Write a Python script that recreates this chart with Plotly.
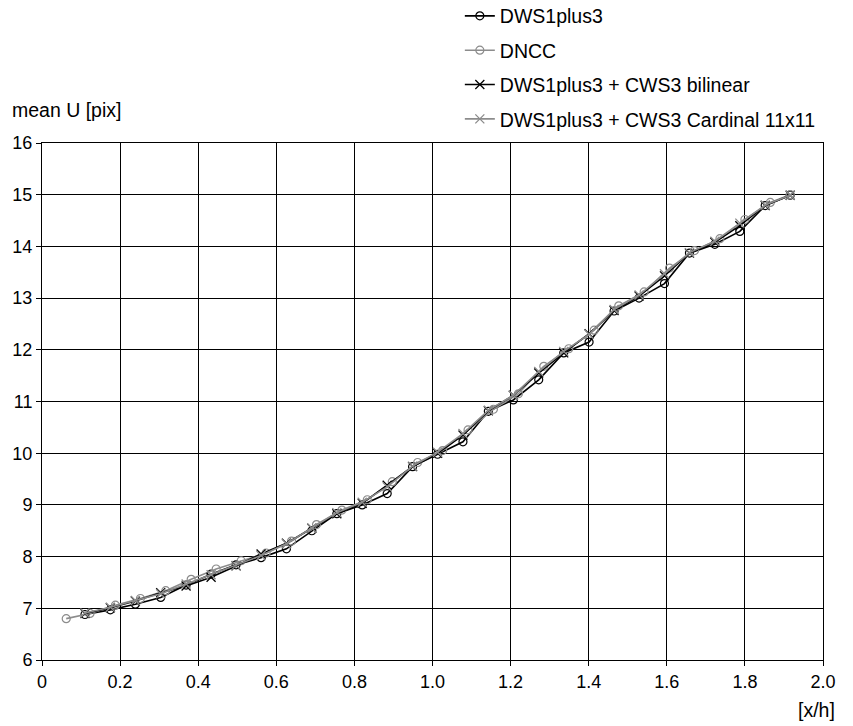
import plotly.graph_objects as go

x_dws = [0.110, 0.175, 0.239, 0.304, 0.369, 0.433, 0.497, 0.561, 0.626, 0.691,
         0.755, 0.820, 0.884, 0.949, 1.013, 1.078, 1.143, 1.207, 1.272, 1.336,
         1.401, 1.465, 1.529, 1.594, 1.658, 1.723, 1.787, 1.852, 1.916]
y_dws = [6.88, 6.97, 7.08, 7.21, 7.45, 7.66, 7.84, 7.98, 8.15, 8.50,
         8.83, 9.00, 9.22, 9.74, 9.98, 10.22, 10.81, 11.03, 11.42, 11.94,
         12.15, 12.75, 13.00, 13.28, 13.87, 14.04, 14.29, 14.79, 14.99]

x_dncc = [0.062, 0.123, 0.188, 0.252, 0.317, 0.382, 0.446, 0.510, 0.574, 0.639,
          0.703, 0.768, 0.833, 0.897, 0.962, 1.026, 1.091, 1.156, 1.220, 1.285,
          1.349, 1.414, 1.477, 1.542, 1.607, 1.671, 1.736, 1.800, 1.865, 1.916]
y_dncc = [6.80, 6.90, 7.06, 7.19, 7.34, 7.56, 7.76, 7.92, 8.07, 8.30,
          8.62, 8.90, 9.10, 9.45, 9.82, 10.05, 10.45, 10.85, 11.15, 11.68,
          12.02, 12.38, 12.85, 13.12, 13.58, 13.92, 14.15, 14.52, 14.85, 15.00]

y_bilinear = [6.90, 7.01, 7.14, 7.30, 7.43, 7.60, 7.82, 8.05, 8.26, 8.55,
              8.83, 9.03, 9.38, 9.74, 10.00, 10.35, 10.82, 11.12, 11.55, 11.94,
              12.31, 12.76, 13.04, 13.43, 13.87, 14.08, 14.40, 14.79, 14.99]

y_cardinal = [6.91, 7.02, 7.15, 7.28, 7.47, 7.65, 7.83, 8.02, 8.25, 8.55,
              8.85, 9.05, 9.35, 9.75, 10.02, 10.38, 10.83, 11.12, 11.58, 11.97,
              12.30, 12.78, 13.06, 13.47, 13.88, 14.10, 14.45, 14.80, 14.99]

x_tickvals = [0, 0.2, 0.4, 0.6, 0.8, 1.0, 1.2, 1.4, 1.6, 1.8, 2.0]
x_ticktext = ["0", "0.2", "0.4", "0.6", "0.8", "1.0", "1.2", "1.4", "1.6", "1.8", "2.0"]

BLACK = "#000000"
GRAY = "#8c8c8c"
FONT = "Liberation Sans, Arial, sans-serif"

fig = go.Figure()

fig.add_trace(go.Scatter(
    x=x_dws, y=y_dws, name="DWS1plus3", mode="lines+markers",
    line=dict(color=BLACK, width=1.6),
    marker=dict(symbol="circle-open", size=8, color=BLACK, line=dict(width=1.2)),
    legendgroup="a"))
fig.add_trace(go.Scatter(
    x=x_dncc, y=y_dncc, name="DNCC", mode="lines+markers",
    line=dict(color=GRAY, width=1.6),
    marker=dict(symbol="circle-open", size=8, color=GRAY, line=dict(width=1.2)),
    legendgroup="b"))
fig.add_trace(go.Scatter(
    x=x_dws, y=y_bilinear, name="DWS1plus3 + CWS3 bilinear", mode="lines+markers",
    line=dict(color=BLACK, width=1.6),
    marker=dict(symbol="x-thin-open", size=9, color=BLACK, line=dict(width=1.3, color=BLACK)),
    legendgroup="c"))
fig.add_trace(go.Scatter(
    x=x_dws, y=y_cardinal, name="DWS1plus3 + CWS3 Cardinal 11x11", mode="lines+markers",
    line=dict(color=GRAY, width=1.6),
    marker=dict(symbol="x-thin-open", size=9, color=GRAY, line=dict(width=1.3, color=GRAY)),
    legendgroup="d"))

fig.update_layout(
    width=853, height=726,
    margin=dict(l=42, r=30, t=143, b=66, autoexpand=False),
    paper_bgcolor="white", plot_bgcolor="white",
    font=dict(family=FONT, size=18, color="black"),
    showlegend=True,
    legend=dict(
        x=0.535, y=1.283, xanchor="left", yanchor="top",
        bgcolor="rgba(0,0,0,0)", font=dict(size=19.5),
        tracegroupgap=6, itemwidth=30,
    ),
    xaxis=dict(
        range=[0, 2.0], tickvals=x_tickvals, ticktext=x_ticktext,
        showgrid=True, gridcolor=BLACK, gridwidth=1,
        showline=True, linecolor=BLACK, linewidth=1, mirror=True,
        ticks="outside", ticklen=5, tickcolor=BLACK, zeroline=False,
        automargin=False,
    ),
    yaxis=dict(
        range=[6, 16], dtick=1, tick0=6,
        showgrid=True, gridcolor=BLACK, gridwidth=1,
        showline=True, linecolor=BLACK, linewidth=1, mirror=True,
        ticks="outside", ticklen=5, tickcolor=BLACK, zeroline=False,
        automargin=False,
    ),
    annotations=[
        dict(text="mean U [pix]", xref="paper", yref="paper",
             x=-0.041, y=1.064, xanchor="left", yanchor="middle",
             showarrow=False, font=dict(size=19.5)),
        dict(text="[x/h]", xref="paper", yref="paper",
             x=1.018, y=-0.097, xanchor="right", yanchor="middle",
             showarrow=False, font=dict(size=19.5)),
    ],
)

fig.write_html("out.html", config={"displayModeBar": False},
               post_script="document.body.style.margin='0';")
